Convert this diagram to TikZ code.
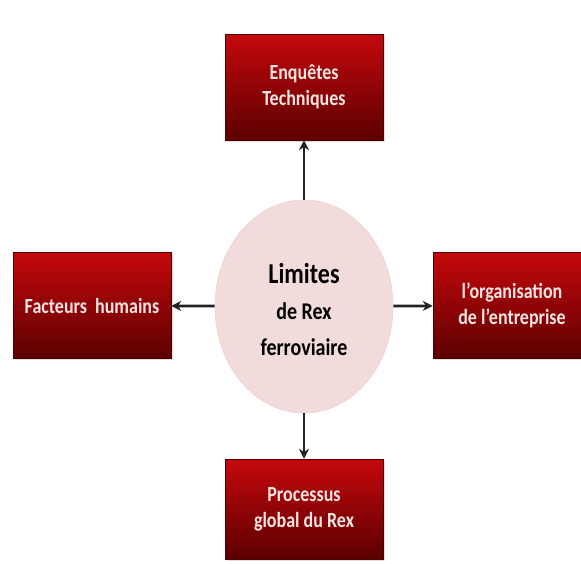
\documentclass[tikz,border=0pt]{standalone}
\usepackage{fontspec}
\setmainfont{Carlito}
\usetikzlibrary{shapes.geometric,arrows.meta,shadows}
\definecolor{boxtop}{RGB}{196,8,12}
\definecolor{boxbot}{RGB}{92,0,0}
\definecolor{boxtext}{RGB}{251,228,226}
\definecolor{ellfill}{RGB}{242,220,219}
\definecolor{ellline}{RGB}{236,208,207}
\definecolor{arrcol}{RGB}{35,35,35}
\newcommand\vst[1]{\scalebox{1}[1.2]{#1}}
\tikzset{
  redbox/.style={rectangle, top color=boxtop, bottom color=boxbot, draw=boxbot!80!black, line width=0.5pt,
    minimum width=158pt, minimum height=106pt, inner sep=0pt, align=center, text=boxtext,
    font=\bfseries\fontsize{18}{26}\selectfont,
    drop shadow={opacity=0.25, shadow xshift=1.5pt, shadow yshift=-1.5pt}},
  centre/.style={ellipse, fill=ellfill, draw=ellline, line width=0.6pt, minimum width=178pt, minimum height=213pt,
    inner sep=0pt},
  centretext/.style={align=center, text=black, font=\bfseries\fontsize{20}{36}\selectfont},
  arr/.style={draw=arrcol, line width=2.8pt, -{Stealth[length=10pt,width=10pt]}}
}
\begin{document}
\begin{tikzpicture}[x=1pt,y=-1pt]
\useasboundingbox[fill=white] (0,0) rectangle (581,563);
\node[centre] (c) at (304,306.5) {};
\node[centretext] (ct) at (304,309) {{\fontsize{24}{36}\selectfont\vst{Limites}}\\\vst{de Rex}\\\vst{ferroviaire}};
\node[redbox] (top) at (304,87) {\vst{Enquêtes}\\\vst{Techniques}};
\node[redbox] (left) at (92,305.5) {\vst{Facteurs\ \ humains}};
\node[redbox] (right) at (512,305.5) {\vst{l’organisation}\\\vst{de l’entreprise}};
\node[redbox, minimum height=100pt] (bot) at (304,509) {\vst{Processus}\\\vst{global du Rex}};
\draw[arr] (c) -- (top);
\draw[arr] (c) -- (left);
\draw[arr] (c) -- (right);
\draw[arr] (c) -- (bot);
\end{tikzpicture}
\end{document}
